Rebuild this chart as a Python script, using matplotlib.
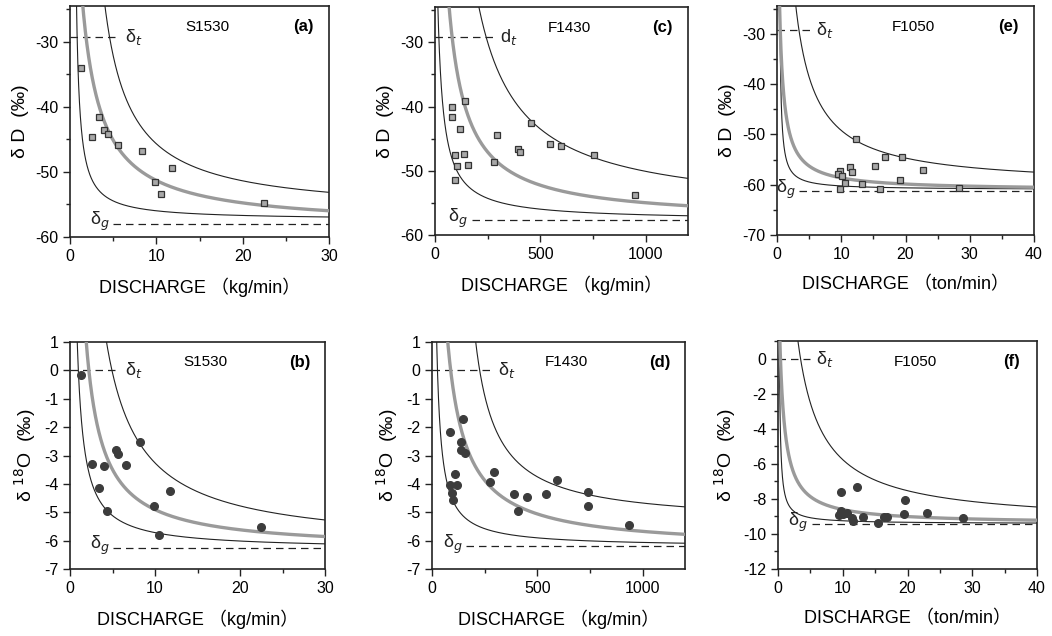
import numpy as np
import matplotlib
matplotlib.use("Agg")
from matplotlib import pyplot as plt
from matplotlib.ticker import MultipleLocator

plt.rcParams['font.family'] = ['Liberation Sans', 'Noto Sans CJK JP', 'DejaVu Sans']
plt.rcParams['mathtext.fontset'] = 'dejavusans'
plt.rcParams['axes.unicode_minus'] = False

# ---- data points ----
a_x = [1.27, 2.54, 3.39, 3.93, 4.36, 5.51, 8.29, 9.87, 10.49, 11.8, 22.44]
a_y = [-34.1, -44.7, -41.6, -43.6, -44.2, -45.9, -46.8, -51.5, -53.4, -49.4, -54.8]

b_x = [1.33, 2.59, 3.45, 4.0, 4.39, 5.41, 5.61, 6.59, 8.24, 9.88, 10.5, 11.8, 22.5]
b_y = [-0.18, -3.29, -4.14, -3.36, -4.95, -2.81, -2.95, -3.34, -2.51, -4.77, -5.79, -4.24, -5.53]

c_x = [82.5, 82.5, 141, 119, 96.8, 139.7, 106, 155.6, 95.2, 277.8, 295, 395, 405,
       455.6, 544, 598, 752, 947.6]
c_y = [-40.0, -41.6, -39.1, -43.5, -47.6, -47.4, -49.3, -49.1, -51.5, -48.7, -44.5,
       -46.6, -47.1, -42.6, -45.8, -46.1, -47.5, -53.7]

d_x = [83.7, 147, 139, 139, 156, 109, 83.7, 94.8, 99.5, 120, 275, 294, 389, 406,
       452, 540, 594, 741, 741, 934]
d_y = [-2.17, -1.70, -2.54, -2.82, -2.91, -3.64, -4.05, -4.32, -4.58, -4.05, -3.95,
       -3.59, -4.35, -4.97, -4.48, -4.35, -3.86, -4.29, -4.79, -5.46]

e_x = [12.24, 16.76, 19.5, 15.3, 11.41, 11.62, 9.75, 9.5, 10.1, 10.6, 13.2, 9.75,
       19.1, 22.8, 16.1, 28.3]
e_y = [-51.0, -54.5, -54.5, -56.3, -56.5, -57.5, -57.3, -57.8, -58.3, -59.7, -59.8,
       -60.9, -59.0, -57.0, -60.9, -60.7]

f_x = [9.69, 12.27, 19.6, 9.69, 9.48, 10.1, 10.7, 11.5, 11.6, 13.2, 15.4, 16.4, 16.8,
       19.4, 22.97, 28.6]
f_y = [-7.62, -7.35, -8.04, -8.70, -8.91, -8.84, -8.82, -9.09, -9.28, -9.05, -9.39,
       -9.03, -9.03, -8.86, -8.8, -9.12]

# ---- points (lower, middle/gray, upper) ----
a_low = ([0.78, 1.16, 2.1, 4.8, 15.4, 30], [-24.5, -40, -50, -54.3, -56.3, -57.1])
a_mid = ([1.62, 3.1, 8.6, 17.4, 30], [-24.5, -40, -50, -54.3, -56.0])
a_up = ([4.16, 6.7, 16.6, 30], [-24.5, -40, -50, -53.3])

b_low = ([0.86, 1.76, 4.7, 10.5, 30], [1, -3, -5, -5.79, -6.09])
b_mid = ([1.88, 4.3, 10.6, 30], [1, -3, -5, -5.85])
b_up = ([4.2, 8.24, 16.9, 30], [1, -2.51, -4.56, -5.24])

c_low = ([11, 40, 103, 1200], [-24.5, -40, -50, -57.0])
c_mid = ([71, 135, 357, 1200], [-24.5, -40, -50, -55.5])
c_up = ([211, 455.6, 752, 1200], [-24.5, -42.6, -47.5, -51.4])

d_low = ([20.5, 52, 131, 1200], [1, -3, -5, -6.09])
d_mid = ([71, 186, 463, 1200], [1, -3, -5, -5.76])
d_up = ([215, 352, 637, 1200], [1, -3, -4, -4.91])

e_low = ([0.31, 0.67, 3.0, 6.6, 40], [-24.5, -55, -58.3, -59.7, -61.0])
e_mid = ([0.52, 0.93, 1.7, 3.8, 7.9, 40], [-24.5, -40, -50, -55, -57.7, -60.7])
e_up = ([3.26, 4.56, 11.0, 20, 40], [-24.5, -40, -50, -54.3, -57.9])

f_low = ([0.2, 0.57, 1.08, 2.9, 6.5, 40], [1, -5.94, -7.85, -8.8, -9.18, -9.37])
f_mid = ([0.31, 1.08, 1.86, 3.9, 8.0, 40], [1, -4.04, -5.94, -7.47, -8.42, -9.22])
f_up = ([3.3, 4.4, 6.5, 10.6, 19.9, 40], [1, -2.13, -4.04, -5.94, -7.47, -8.51])

# end members: (delta_t, end of dashed line, delta_g, start of dashed line)
a_end = (-29.3, 5.6, -58.0, 5.0)
b_end = (0.0, 5.7, -6.25, 5.1)
c_end = (-29.2, 278, -57.7, 175)
d_end = (0.0, 281, -6.2, 163)
e_end = (-29.2, 5.1, -61.3, 3.5)
f_end = (0.0, 4.9, -9.45, 5.2)


def fit_hyper(xs, ys, xmax, yrange):
    # y = a + c / (x + b), residuals roughly perpendicular to the curve
    xs = np.asarray(xs, float)
    ys = np.asarray(ys, float)
    best = None
    for b in np.linspace(-0.95 * xs.min(), xs.max(), 3000):
        u = 1.0 / (xs + b)
        A = np.vstack([np.ones_like(u), u]).T
        w = np.ones_like(u)
        for _ in range(3):
            coef = np.linalg.lstsq(A * w[:, None], ys * w, rcond=None)[0]
            k = -coef[1] * u ** 2 * xmax / yrange
            w = 1.0 / np.sqrt(1.0 + k ** 2)
        r = np.sum((w * (A @ coef - ys)) ** 2)
        if best is None or r < best[0]:
            best = (r, b, coef)
    return best[1], best[2]


def draw_curve(ax, pts, xmax, yrange, **kw):
    b, (a, c) = fit_hyper(pts[0], pts[1], xmax, yrange)
    t = np.geomspace(1e-5 * xmax, xmax + b, 4000)
    x = t - b
    x = x[x >= 0]
    ax.plot(x, a + c / (x + b), **kw)


panels = [
    # key, pts, curves, ends, xmax, ylim, marker, name, letter, iso, unit,
    # ymaj, ymin, xmaj, xmin, dt label, rect(px)
    ('a', (a_x, a_y), (a_low, a_mid, a_up), a_end, 30, (-60, -24.5), 's', 'S1530', '(a)', 'D',
     'kg/min', 10, 5, 10, 5, 'δ$_t$', (70, 6, 329, 237)),
    ('c', (c_x, c_y), (c_low, c_mid, c_up), c_end, 1200, (-60, -24.5), 's', 'F1430', '(c)', 'D',
     'kg/min', 10, 5, 500, 250, 'd$_t$', (435, 7, 688, 235)),
    ('e', (e_x, e_y), (e_low, e_mid, e_up), e_end, 40, (-70, -24.5), 's', 'F1050', '(e)', 'D',
     'ton/min', 10, 5, 10, 5, 'δ$_t$', (777, 6, 1034, 235)),
    ('b', (b_x, b_y), (b_low, b_mid, b_up), b_end, 30, (-7, 1), 'o', 'S1530', '(b)', 'O',
     'kg/min', 1, None, 10, 5, 'δ$_t$', (70, 342, 325, 569)),
    ('d', (d_x, d_y), (d_low, d_mid, d_up), d_end, 1200, (-7, 1), 'o', 'F1430', '(d)', 'O',
     'kg/min', 1, None, 500, 250, 'δ$_t$', (432, 342, 685, 569)),
    ('f', (f_x, f_y), (f_low, f_mid, f_up), f_end, 40, (-12, 1), 'o', 'F1050', '(f)', 'O',
     'ton/min', 2, 1, 10, 5, 'δ$_t$', (778, 341, 1037, 569)),
]

W, H = 1052, 636
fig = plt.figure(figsize=(W / 100, H / 100), dpi=100)

for (key, pts, curves, ends, xmax, ylim, mk, name, letter, iso, unit,
     ymaj, ymin, xmaj, xmin, dtlab, rect) in panels:
    l, t, r, bt = rect
    ax = fig.add_axes([l / W, 1 - bt / H, (r - l) / W, (bt - t) / H])
    ax.set_xlim(0, xmax)
    ax.set_ylim(*ylim)
    yr = ylim[1] - ylim[0]

    low, mid, up = curves
    draw_curve(ax, low, xmax, yr, color='#222222', lw=0.8, zorder=2)
    draw_curve(ax, up, xmax, yr, color='#222222', lw=0.8, zorder=2)
    draw_curve(ax, mid, xmax, yr, color='#9a9a9a', lw=2.4, zorder=3)

    dt, dt_end, dg, dg_start = ends
    ax.plot([0, dt_end], [dt, dt], color='#222222', lw=0.9, dashes=(6, 4), zorder=2)
    ax.plot([dg_start, xmax], [dg, dg], color='#222222', lw=0.9, dashes=(6, 4), zorder=2)
    ax.text(dt_end + 0.025 * xmax, dt, dtlab, fontsize=13, va='center', ha='left',
            color='#222222')
    ax.text(dg_start - 0.015 * xmax, dg + 0.01 * yr, 'δ$_g$', fontsize=13,
            va='center', ha='right', color='#222222')

    px, py = pts
    if mk == 's':
        ax.plot(px, py, 's', ms=5, mfc='#a8a8a8', mec='#333333', mew=0.9, ls='none', zorder=4)
    else:
        ax.plot(px, py, 'o', ms=5.5, mfc='#3c3c3c', mec='#3c3c3c', ls='none', zorder=4)

    ax.text(0.53, 0.91, name, transform=ax.transAxes, fontsize=11, ha='center', va='center')
    ax.text(0.9, 0.91, letter, transform=ax.transAxes, fontsize=12, fontweight='bold',
            ha='center', va='center')

    ax.yaxis.set_major_locator(MultipleLocator(ymaj))
    if ymin:
        ax.yaxis.set_minor_locator(MultipleLocator(ymin))
    ax.xaxis.set_major_locator(MultipleLocator(xmaj))
    ax.xaxis.set_minor_locator(MultipleLocator(xmin))
    ax.tick_params(which='both', direction='out', labelsize=11.5, width=1, color='#222222')
    ax.tick_params(which='major', length=5)
    ax.tick_params(which='minor', length=3)
    for s in ax.spines.values():
        s.set_linewidth(1.2)
        s.set_color('#222222')

    ax.set_xlabel('DISCHARGE （' + unit + '）', fontsize=13, labelpad=10)
    if iso == 'D':
        ax.set_ylabel('δ D  (‰)', fontsize=14, labelpad=4)
    else:
        ax.set_ylabel('δ $^{18}$O  (‰)', fontsize=14, labelpad=4)

fig.savefig('out.png', dpi=100, facecolor='white')
